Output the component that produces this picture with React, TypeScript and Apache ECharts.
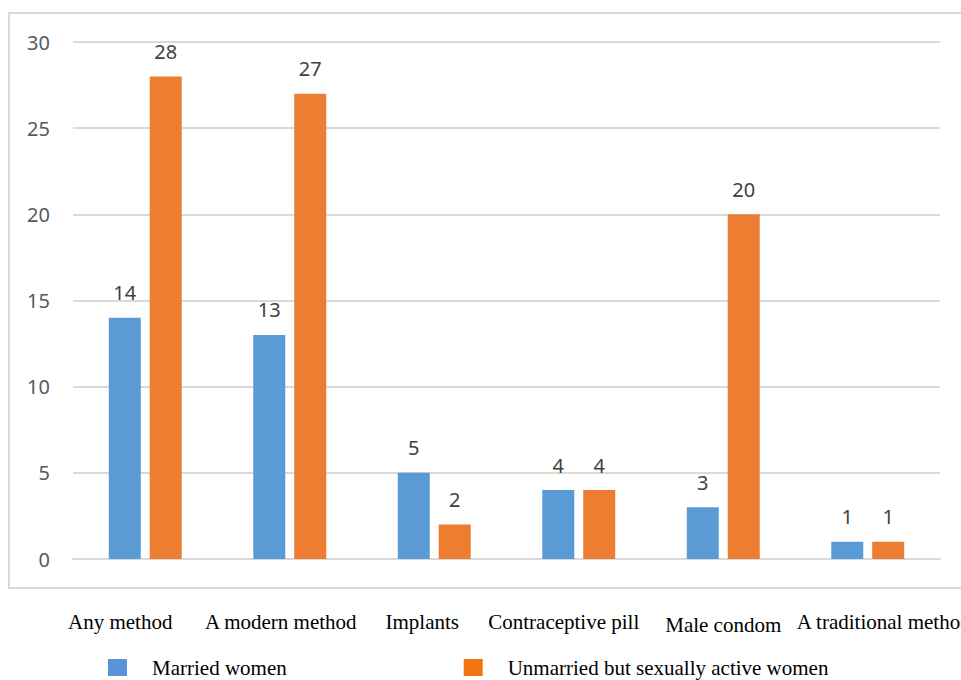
import React, { useEffect, useRef } from "react";
import * as echarts from "echarts";

const categories = ["Any method", "A modern method", "Implants", "Contraceptive pill", "Male condom", "A traditional method"];
const married = [14, 13, 5, 4, 3, 1];
const unmarried = [28, 27, 2, 4, 20, 1];
const seriesNames = ["Married women", "Unmarried but sexually active women"];

// per-label paddings [top, right, bottom, left] to nudge category labels as in the reference
const labelPads: number[][] = [
  [0, 50, 0, 0],
  [0, 18, 0, 0],
  [0, 24, 0, 0],
  [0, 30, 0, 0],
  [3, 0, 0, 0],
  [0, 0, 0, 32],
];

export default function App() {
  const ref = useRef<HTMLDivElement>(null);
  useEffect(() => {
    document.body.style.margin = "0";
    const chart = echarts.init(ref.current!, null, { renderer: "svg" });
    const labelStyle = {
      show: true,
      position: "top" as const,
      distance: 15,
      fontFamily: "Noto Sans",
      fontSize: 20,
      color: "#404040",
    };
    chart.setOption({
      animation: false,
      backgroundColor: "#ffffff",
      grid: { left: 73, right: 21, top: 42, bottom: 121, outerBoundsMode: "none", containLabel: false },
      legend: {
        left: 103,
        top: 652,
        itemWidth: 19,
        itemHeight: 17,
        itemGap: 177,
        icon: "rect",
        textStyle: { fontFamily: "Liberation Serif", fontSize: 21, color: "#000", padding: [0, 0, 0, 20] },
        data: [
          { name: seriesNames[0], itemStyle: { color: "#5B93D8" } },
          { name: seriesNames[1], itemStyle: { color: "#F2760F" } },
        ],
      },
      xAxis: {
        type: "category",
        data: categories.map((c, i) => ({ value: c, textStyle: { padding: labelPads[i] } })),
        axisLine: { show: true, lineStyle: { color: "#d9d9d9", width: 2 } },
        axisTick: { show: false },
        axisLabel: { margin: 52, fontFamily: "Liberation Serif", fontSize: 21, color: "#000", interval: 0, hideOverlap: false },
      },
      yAxis: {
        type: "value",
        min: 0,
        max: 30,
        interval: 5,
        axisLine: { show: false },
        axisTick: { show: false },
        splitLine: { lineStyle: { color: "#d9d9d9", width: 2 } },
        axisLabel: { margin: 23, fontFamily: "Noto Sans", fontSize: 20, color: "#595959" },
      },
      graphic: [
        {
          type: "rect",
          shape: { x: 9, y: 13, width: 970, height: 575 },
          style: { fill: "none", stroke: "#d9d9d9", lineWidth: 2 },
          silent: true,
        },
      ],
      series: [
        {
          name: seriesNames[0],
          type: "bar",
          data: married,
          barWidth: 32,
          barGap: "28%",
          itemStyle: { color: "#5B9BD5" },
          label: labelStyle,
        },
        {
          name: seriesNames[1],
          type: "bar",
          data: unmarried,
          barWidth: 32,
          itemStyle: { color: "#ED7D31" },
          label: labelStyle,
        },
      ],
    });
    return () => chart.dispose();
  }, []);
  return <div ref={ref} style={{ width: 961, height: 680 }} />;
}
